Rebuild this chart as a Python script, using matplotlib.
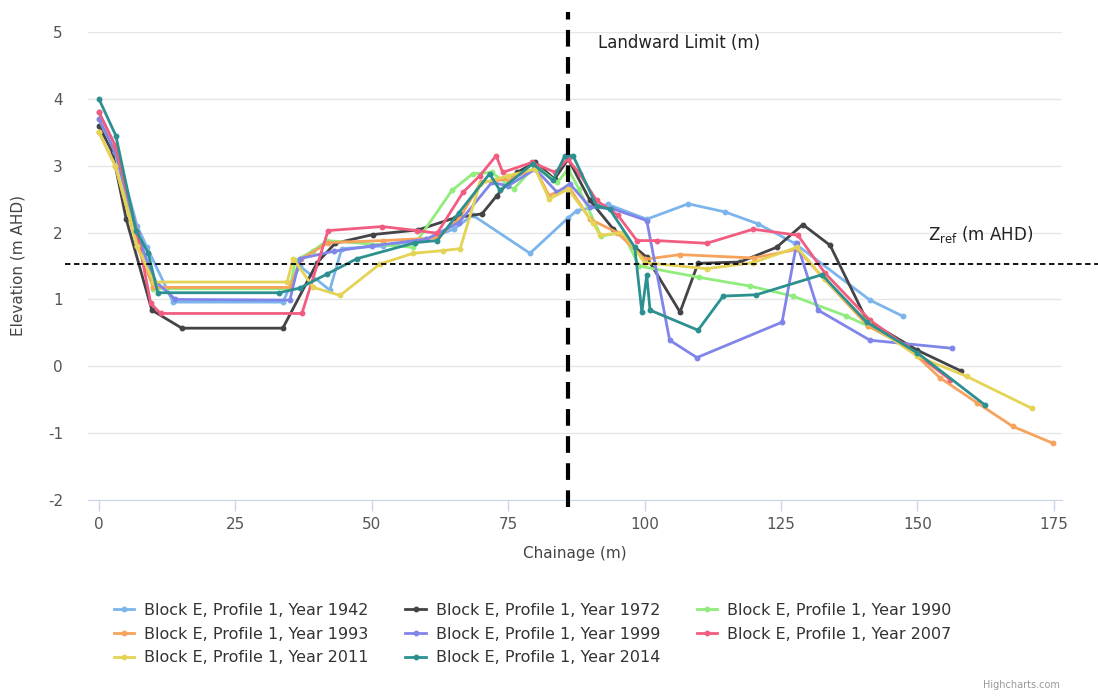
import matplotlib
matplotlib.use("Agg")
import matplotlib.pyplot as plt
from matplotlib.lines import Line2D

plt.rcParams['axes.unicode_minus'] = False

# ---------------- data ----------------
x_1942 = [0, 3, 7, 8.8, 13.6, 33.7, 36.8, 42.3, 44.5, 52, 60, 65, 68.5, 79, 86, 87.6, 93.3, 100.4, 108, 114.7, 120.8, 127.5, 141.3, 147.3]
y_1942 = [3.8, 3.3, 2.1, 1.78, 0.96, 0.96, 1.5, 1.14, 1.76, 1.8, 1.9, 2.05, 2.26, 1.69, 2.22, 2.33, 2.42, 2.2, 2.43, 2.31, 2.13, 1.84, 0.99, 0.75]

x_1972 = [0, 2.5, 5, 9.7, 15.2, 33.7, 40, 43.3, 50.2, 58.5, 65.2, 70.2, 72.9, 76.6, 80, 83.5, 86, 90, 94.2, 100.4, 106.5, 109.8, 117.5, 124.2, 129, 134, 140.7, 150, 158]
y_1972 = [3.6, 3.2, 2.2, 0.84, 0.57, 0.57, 1.55, 1.84, 1.97, 2.04, 2.22, 2.28, 2.55, 2.9, 3.05, 2.8, 3.1, 2.48, 2.06, 1.63, 0.81, 1.54, 1.56, 1.78, 2.12, 1.81, 0.69, 0.24, -0.07]

x_1990 = [0, 3, 7, 10, 35, 36, 39.3, 41.8, 57.5, 64.7, 68.5, 72, 76, 80, 84, 86, 88, 92, 96, 99, 110, 119.3, 127.2, 137, 141, 148]
y_1990 = [3.7, 3.2, 1.9, 1.16, 1.16, 1.58, 1.73, 1.88, 1.78, 2.63, 2.88, 2.9, 2.65, 3.0, 2.75, 2.95, 2.65, 1.95, 2.0, 1.5, 1.33, 1.2, 1.05, 0.75, 0.6, 0.3]

x_1993 = [0, 3, 7, 10, 35, 37, 42, 52, 62, 66, 70, 75, 80, 82.5, 86, 90, 95, 100, 106.5, 120, 128, 133, 141, 148, 154.1, 161, 167.5, 174.8]
y_1993 = [3.5, 3.0, 1.8, 1.18, 1.18, 1.6, 1.85, 1.88, 1.92, 2.2, 2.75, 2.8, 2.95, 2.55, 2.7, 2.2, 2.0, 1.6, 1.67, 1.62, 1.75, 1.3, 0.6, 0.3, -0.17, -0.55, -0.9, -1.15]

x_1999 = [0, 3, 7, 10, 14, 35, 36.8, 43, 50, 60, 66, 72, 75, 80, 84, 86.3, 90, 94, 100.4, 104.6, 109.6, 125.2, 127.9, 131.8, 141.3, 156.3]
y_1999 = [3.7, 3.2, 2.0, 1.3, 1.0, 0.99, 1.61, 1.72, 1.8, 1.9, 2.15, 2.75, 2.7, 2.95, 2.6, 2.73, 2.38, 2.36, 2.18, 0.39, 0.13, 0.66, 1.85, 0.84, 0.39, 0.27]

x_2007 = [0, 3, 7, 9.5, 11.3, 37.2, 42, 51.9, 58.3, 62, 66.7, 69.8, 72.8, 74, 79.4, 83.6, 85.9, 88.1, 91.2, 95.1, 98.6, 102.2, 111.4, 119.9, 128.1, 133, 141.3, 148, 156]
y_2007 = [3.8, 3.3, 2.0, 0.94, 0.79, 0.79, 2.03, 2.09, 2.03, 1.99, 2.6, 2.85, 3.15, 2.9, 3.05, 2.9, 3.1, 2.88, 2.48, 2.26, 1.88, 1.88, 1.84, 2.05, 1.96, 1.4, 0.69, 0.3, -0.2]

x_2011 = [0, 3, 7, 10, 34.5, 35.6, 39.3, 44.2, 51.5, 57.6, 63, 66.2, 69.8, 75, 80, 82.5, 86, 90.6, 91.8, 96, 100, 111.4, 119.9, 127.9, 133, 141, 150, 159, 171]
y_2011 = [3.5, 3.0, 1.8, 1.26, 1.26, 1.61, 1.18, 1.06, 1.53, 1.69, 1.73, 1.76, 2.73, 2.85, 2.95, 2.5, 2.65, 2.14, 1.96, 2.0, 1.55, 1.46, 1.55, 1.78, 1.3, 0.65, 0.15, -0.15, -0.63]

x_2014 = [0, 3.1, 6.8, 9, 10.8, 33, 36.8, 41.8, 47.3, 58, 62, 66, 71.6, 73.5, 79.5, 83.2, 85.4, 86.9, 91.2, 93.6, 98.2, 99.5, 100.4, 101, 109.8, 114.4, 120.5, 132.5, 140.7, 150, 162.4]
y_2014 = [4.0, 3.45, 2.03, 1.7, 1.1, 1.1, 1.17, 1.38, 1.61, 1.85, 1.88, 2.3, 2.88, 2.63, 3.03, 2.78, 3.15, 3.15, 2.4, 2.35, 1.78, 0.81, 1.36, 0.84, 0.54, 1.05, 1.07, 1.37, 0.66, 0.2, -0.58]

years = ["1942", "1972", "1990", "1993", "1999", "2007", "2011", "2014"]
series_x = [x_1942, x_1972, x_1990, x_1993, x_1999, x_2007, x_2011, x_2014]
series_y = [y_1942, y_1972, y_1990, y_1993, y_1999, y_2007, y_2011, y_2014]
colors = ['#7cb5ec', '#434348', '#90ed7d', '#f7a35c', '#8085e9', '#f15c80', '#e4d354', '#2b908f']

landward_limit = 86
z_ref = 1.53

x_ticks = [0, 25, 50, 75, 100, 125, 150, 175]
y_ticks = [-2, -1, 0, 1, 2, 3, 4, 5]

# ---------------- figure ----------------
fig = plt.figure(figsize=(10.98, 6.98), dpi=100)
ax = fig.add_axes([88/1098, 1 - 500/698, 974/1098, 468/698])

for xs, ys, c, yr in zip(series_x, series_y, colors, years):
    ax.plot(xs, ys, color=c, lw=2, marker='o', markersize=3.2, zorder=3,
            label=f"Block E, Profile 1, Year {yr}")

ax.set_xlim(-2, 176.5)
ax.set_ylim(-2, 5)
ax.set_xticks(x_ticks)
ax.set_yticks(y_ticks)

ax.grid(axis='y', color='#e6e6e6', lw=1)
ax.set_axisbelow(True)
for s in ['top', 'right', 'left']:
    ax.spines[s].set_visible(False)
ax.spines['bottom'].set_color('#ccd6eb')
ax.tick_params(axis='x', colors='#ccd6eb', length=8, width=1, labelcolor='#555555',
               labelsize=11, pad=4)
ax.tick_params(axis='y', length=0, labelcolor='#555555', labelsize=11, pad=18)

ax.set_xlabel("Chainage (m)", fontsize=11, color='#444444', labelpad=10)
ax.set_ylabel("Elevation (m AHD)", fontsize=11, color='#444444', labelpad=16)

# reference lines
ax.plot([landward_limit, landward_limit], [-2.1, 5.3], color='black', lw=3,
        ls=(0, (4, 2.5)), clip_on=False, zorder=5)
ax.plot([-6.2, 184], [z_ref, z_ref], color='black', lw=1.3,
        ls=(0, (3, 2)), clip_on=False, zorder=5)

ax.text(91.5, 4.83, "Landward Limit (m)", fontsize=12, color='#222222',
        va='center', ha='left')
ax.text(152, 1.97, r"Z$_{\rm ref}$ (m AHD)", fontsize=12, color='#222222',
        va='center', ha='left')

# legend (row-wise ordering as in reference)
handles, labels = ax.get_legend_handles_labels()
order = [0, 3, 6, 1, 4, 7, 2, 5]
leg_handles = [Line2D([0], [0], color=colors[i], lw=2, marker='o', markersize=3.2)
               for i in order]
leg_labels = [labels[i] for i in order]
leg = fig.legend(leg_handles, leg_labels, ncol=3, loc='upper center',
                 bbox_to_anchor=(0.485, 0.157), frameon=False,
                 prop={'size': 11.5},
                 handlelength=1.3, handletextpad=0.6, columnspacing=2.3,
                 labelspacing=0.55, labelcolor='#333333')

fig.text(0.965, 0.015, "Highcharts.com", fontsize=7, color='#999999', ha='right')

fig.savefig("out.png", dpi=100)
